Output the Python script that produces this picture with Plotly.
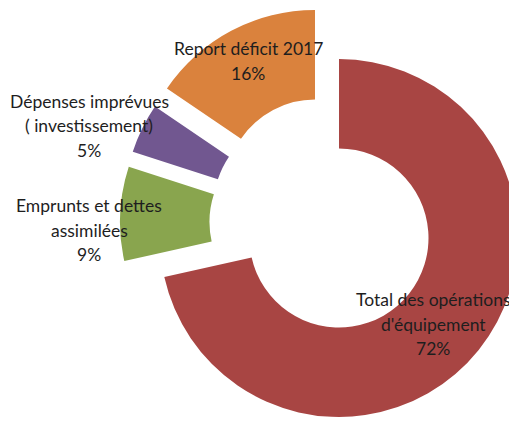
import math
import plotly.graph_objects as go

# ---- data ----
categories = ["Total des opérations d'équipement", "Emprunts et dettes assimilées",
              "Dépenses imprévues ( investissement)", "Report déficit 2017"]
label_lines = [["Total des opérations", "d'équipement"],
               ["Emprunts et dettes", "assimilées"],
               ["Dépenses imprévues", "( investissement)"],
               ["Report déficit 2017"]]
values = [71.5, 8.5, 4.5, 15.5]

# ---- style ----
colors = ["#A84543", "#89A54E", "#715790", "#DA823D"]
# explode offsets of each slice (px on screen, x right / y down)
explode = [(0, 0), (-40, -16), (-36, -31), (-24, -49)]
# label block centres on screen (px)
label_pos = [(433, 324), (89, 230), (89, 126), (248, 61)]

W, H = 517, 423
OFF = 8                 # page body margin offset
CX, CY, R = 339 - OFF, 238 - OFF, 179
HOLE = 0.5
LINE = 24.5

total = sum(values)
fig = go.Figure()
for i, v in enumerate(values):
    cx, cy = CX + explode[i][0], CY + explode[i][1]
    cols = ["rgba(0,0,0,0)"] * len(values)
    cols[i] = colors[i]
    fig.add_trace(go.Pie(
        labels=categories, values=values, sort=False, direction="clockwise",
        rotation=0, hole=HOLE, textinfo="none", showlegend=False,
        marker=dict(colors=cols, line=dict(width=0)),
        domain=dict(x=[max(0, (cx - R) / W), min(1, (cx + R) / W)],
                    y=[max(0, 1 - (cy + R) / H), min(1, 1 - (cy - R) / H)]),
        hoverinfo="label+percent",
    ))

annotations = []
for i, v in enumerate(values):
    pct = int(math.floor(v / total * 100 + 0.5 + 1e-9))
    lines = label_lines[i] + [f"{pct}%"]
    bx, by = label_pos[i][0] - OFF, label_pos[i][1] - OFF
    n = len(lines)
    for k, t in enumerate(lines):
        py = by + (k - (n - 1) / 2) * LINE
        annotations.append(dict(
            x=bx / W, y=1 - py / H, xref="paper", yref="paper",
            text=t, showarrow=False, xanchor="center", yanchor="middle",
            font=dict(family="Lato", size=17.5, color="#1e1e1e")))

fig.update_layout(
    width=W, height=H, margin=dict(l=0, r=0, t=0, b=0),
    paper_bgcolor="white", plot_bgcolor="white",
    annotations=annotations,
)
fig.write_html("out.html")
